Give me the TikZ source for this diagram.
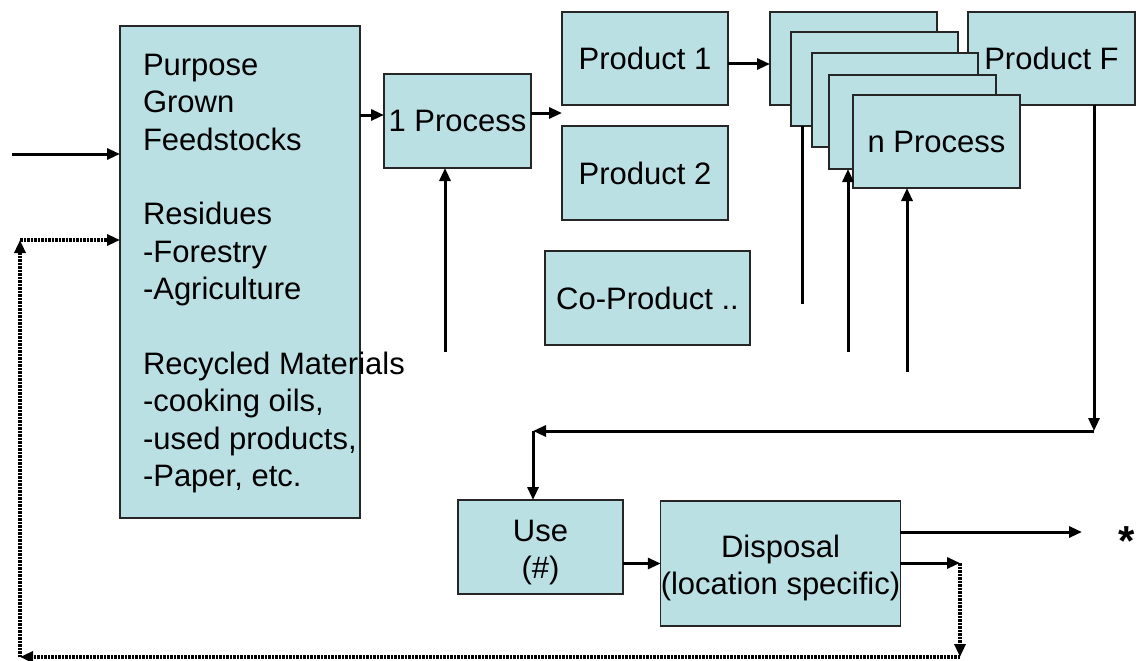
\documentclass[tikz,border=0pt]{standalone}
\usepackage{fontspec}
\setmainfont{Liberation Sans}
\usetikzlibrary{arrows.meta}
\definecolor{boxblue}{RGB}{187,224,228}
\begin{document}
\begin{tikzpicture}[y=1pt, x=1pt, yscale=-1, inner sep=0pt, outer sep=0pt,
	font=\fontsize{31}{37.4}\selectfont,
	box/.style={rectangle, draw=black!85, fill=boxblue, line width=1.3pt, align=center},
	arr/.style={line width=3pt, -{Triangle[length=13pt,width=11pt]}},
	dotarr/.style={line width=3.2pt, dash pattern=on 2.5pt off 1pt, -{Triangle[length=13pt,width=11pt]}},
	plain/.style={line width=3pt}]
\useasboundingbox (0,0) rectangle (1136,661);
% feedstock column
	\node[box, minimum width=240, minimum height=492] (feed) at (240,272) {};
	\node[anchor=north west, align=left] (feedtext) at (143,54) {Purpose\\Grown\\Feedstocks\\[37.4pt]Residues\\-Forestry\\-Agriculture\\[37.4pt]Recycled Materials\\-cooking oils,\\-used products,\\-Paper, etc.};
% first step and products
	\node[box, minimum width=147, minimum height=94] (proc1) at (457.5,121) {1 Process};
	\node[box, minimum width=166, minimum height=93] (prod1) at (645,58.5) {Product 1};
	\node[box, minimum width=166, minimum height=94] (prod2) at (645,173) {Product 2};
	\node[box, minimum width=205, minimum height=94] (coprod) at (647.5,298) {Co-Product ..};
% stacked steps
	\node[box, minimum width=167, minimum height=93] (stackA) at (853.5,58.5) {};
	\node[box, minimum width=167, minimum height=94] (stackB) at (874.5,79) {};
	\node[box, minimum width=167, minimum height=93] (prodF) at (1051.5,58.5) {Product F};
	\node[box, minimum width=166, minimum height=94] (stackC) at (895,100) {};
	\node[box, minimum width=167, minimum height=94] (stackD) at (912.5,122) {};
	\node[box, minimum width=167, minimum height=93] (nproc) at (936.5,141.5) {n Process};
% end of life
	\node[box, minimum width=165, minimum height=94] (use) at (540.5,547) {\rule{0pt}{32pt}Use\\(\#)};
	\node[box, minimum width=235, minimum height=125] (disp) at (780.5,563.5) {\rule{0pt}{32pt}Disposal\\(location specific)};
	\node[font=\fontsize{42}{42}\selectfont\bfseries] (star) at (1127,541) {*};
% free ends
	\coordinate (inlet) at (12,154);
	\coordinate (p1feed) at (445,352);
	\coordinate (sB) at (802,304);
	\coordinate (sD) at (848,352);
	\coordinate (sN) at (907,372);
	\coordinate (turnF) at (1094,431);
	\coordinate (turnU) at (533,431);
	\coordinate (outlet) at (1082,532);
	\coordinate (r1) at (960,563);
	\coordinate (r2) at (960,657);
	\coordinate (r3) at (20,657);
	\coordinate (r4) at (20,240);
% connectors
	\draw[arr] (inlet) -- (inlet -| feed.west);
	\draw[arr] (feed.east |- 0,115) -- (proc1.west |- 0,115);
	\draw[arr] (proc1.east |- 0,113) -- (prod1.west |- 0,113);
	\draw[arr] (p1feed) -- (p1feed |- proc1.south);
	\draw[arr] (prod1.east |- 0,64) -- (stackA.west |- 0,64);
	\draw[plain] (sB) -- (sB |- stackB.south);
	\draw[arr] (sD) -- (sD |- stackD.south);
	\draw[arr] (sN) -- (sN |- nproc.south);
	\draw[arr] (turnF |- prodF.south) -- (turnF);
	\draw[arr] (turnF) -- (turnU);
	\draw[arr] (turnU) -- (turnU |- use.north);
	\draw[arr] (use.east |- disp.west) -- (disp.west);
	\draw[arr] (disp.east |- outlet) -- (outlet);
	\draw[arr] (disp.east |- r1) -- (r1);
	\draw[dotarr] (r1) -- (r2);
	\draw[dotarr] (r2) -- (r3);
	\draw[dotarr] (r3) -- (r4);
	\draw[dotarr] (r4) -- (r4 -| feed.west);
\end{tikzpicture}
\end{document}
